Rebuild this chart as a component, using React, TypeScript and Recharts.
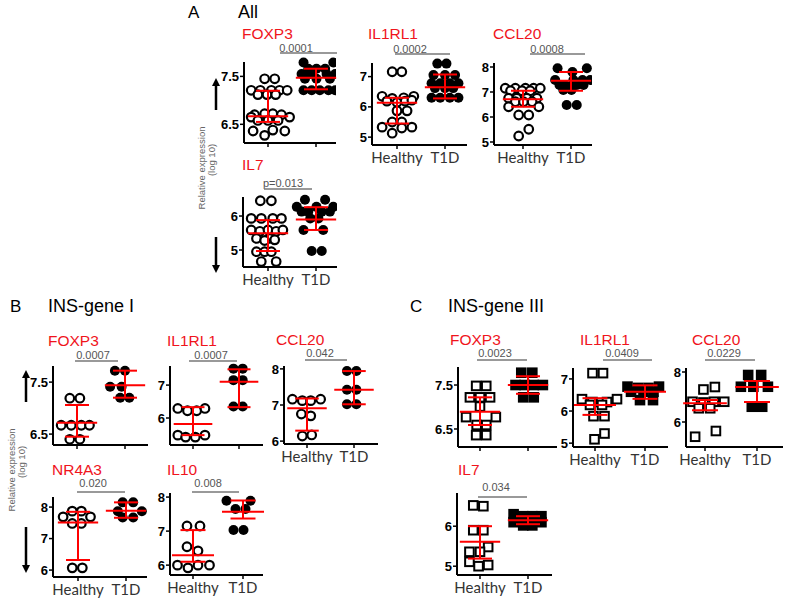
import React from 'react';
import { ScatterChart, Scatter, XAxis, YAxis, ReferenceLine } from 'recharts';

type Pt = [number, number];
type Stat = [number, number, number]; // median, q1, q3

// categories on every x axis
const groups = ['Healthy', 'T1D'];

// points: [offset from group centre (in group spacings), log10 relative expression]
// ---- A: All
const aFoxp3H: Pt[] = [[-0.07, 7.45], [0.14, 7.45], [-0.35, 7.21], [-0.16, 7.21], [0.07, 7.21], [0.24, 7.21], [0.4, 7.21], [-0.21, 7.12], [-0.02, 7.12], [0.16, 7.12], [-0.28, 6.7], [-0.07, 6.72], [0.1, 6.72], [0.28, 6.7], [-0.35, 6.65], [0.45, 6.65], [-0.21, 6.58], [0, 6.58], [0.21, 6.58], [-0.31, 6.36], [0.1, 6.38], [0.35, 6.36], [-0.07, 6.27]];
const aFoxp3T: Pt[] = [[-0.26, 7.79], [0.36, 7.79], [-0.16, 7.66], [0.01, 7.66], [0.19, 7.66], [-0.3, 7.55], [-0.12, 7.55], [0.22, 7.55], [0.4, 7.55], [-0.23, 7.45], [0.01, 7.45], [0.29, 7.45], [-0.26, 7.21], [-0.09, 7.21], [0.08, 7.21], [0.26, 7.21], [0.4, 7.21]];
const aFoxp3Stats: Stat[] = [[6.67, 6.55, 7.2], [7.47, 7.23, 7.66]];

const aIl1rl1H: Pt[] = [[-0.1, 7.16], [0.1, 7.16], [-0.31, 6.35], [-0.1, 6.28], [0.14, 6.3], [0.35, 6.35], [-0.21, 6.19], [0, 6.15], [0.17, 6.19], [0.31, 6.22], [0, 5.87], [0.21, 5.87], [-0.1, 5.5], [0.1, 5.5], [-0.31, 5.33], [0.31, 5.33], [0.1, 5.3], [-0.1, 5.13]];
const aIl1rl1T: Pt[] = [[-0.16, 7.43], [0.03, 7.43], [-0.24, 7.05], [0, 7.05], [0.21, 7.05], [-0.28, 6.78], [-0.1, 6.78], [0.1, 6.78], [0.28, 6.78], [-0.21, 6.62], [0, 6.62], [0.17, 6.62], [-0.28, 6.3], [-0.1, 6.3], [0.1, 6.3], [0.28, 6.3]];
const aIl1rl1Stats: Stat[] = [[6.14, 5.45, 6.3], [6.65, 6.28, 7.07]];

const aCcl20H: Pt[] = [[-0.37, 7.15], [-0.16, 7.15], [0.05, 7.15], [0.22, 7.15], [0.36, 7.15], [-0.26, 7.05], [-0.02, 7.05], [0.15, 7.05], [-0.3, 6.75], [-0.13, 6.75], [0.08, 6.75], [0.29, 6.75], [-0.16, 6.61], [0.01, 6.61], [0.19, 6.61], [-0.3, 6.41], [0.33, 6.41], [-0.09, 6.08], [0.12, 6.08], [0.12, 5.51], [-0.09, 5.24]];
const aCcl20T: Pt[] = [[-0.28, 7.95], [0.33, 7.95], [0.03, 7.8], [-0.33, 7.48], [0.05, 7.48], [0.24, 7.48], [0.4, 7.48], [-0.24, 7.28], [-0.13, 7.28], [-0.02, 7.22], [0.12, 7.28], [0.26, 7.28], [-0.16, 7.08], [0.01, 7.08], [-0.09, 6.48], [0.12, 6.48]];
const aCcl20Stats: Stat[] = [[6.71, 6.41, 7.05], [7.45, 7.05, 7.8]];

const aIl7H: Pt[] = [[-0.16, 6.45], [0.07, 6.45], [-0.35, 5.93], [-0.14, 5.93], [0.1, 5.93], [0.28, 5.93], [-0.35, 5.59], [-0.17, 5.55], [0, 5.59], [0.17, 5.55], [0.31, 5.59], [-0.24, 5.34], [0.03, 5.34], [-0.07, 5.28], [0.14, 5.3], [-0.24, 4.95], [-0.07, 4.95], [0.07, 4.95], [-0.14, 4.66], [0.17, 4.66]];
const aIl7T: Pt[] = [[-0.23, 6.48], [0.19, 6.48], [-0.4, 6.27], [0.01, 6.27], [0.36, 6.27], [-0.3, 6.13], [-0.16, 6.13], [0.12, 6.13], [0.29, 6.13], [-0.12, 5.93], [0.05, 5.93], [-0.26, 5.59], [0.15, 5.59], [-0.09, 4.97], [0.12, 4.97]];
const aIl7Stats: Stat[] = [[5.49, 4.97, 5.88], [5.9, 5.59, 6.26]];

// ---- B: INS-gene I
const bFoxp3H: Pt[] = [[-0.15, 7.19], [0.06, 7.19], [-0.33, 6.67], [-0.12, 6.67], [0.09, 6.67], [0.26, 6.67], [-0.15, 6.4], [0.06, 6.4]];
const bFoxp3T: Pt[] = [[-0.21, 7.72], [0, 7.72], [-0.31, 7.41], [-0.07, 7.41], [-0.1, 7.2], [0.09, 7.2]];
const bFoxp3Stats: Stat[] = [[6.72, 6.45, 7.06], [7.44, 7.2, 7.72]];

const bIl1rl1H: Pt[] = [[-0.33, 6.29], [-0.12, 6.22], [0.08, 6.22], [0.26, 6.29], [-0.33, 5.48], [-0.16, 5.42], [0.05, 5.42], [0.26, 5.48]];
const bIl1rl1T: Pt[] = [[-0.12, 7.5], [0.08, 7.5], [-0.12, 7.15], [0.08, 7.15], [-0.12, 6.35], [0.08, 6.35]];
const bIl1rl1Stats: Stat[] = [[5.82, 5.48, 6.33], [7.1, 6.33, 7.48]];

const bCcl20H: Pt[] = [[-0.31, 7.16], [-0.1, 7.12], [0.08, 7.12], [0.29, 7.16], [-0.12, 6.75], [0.08, 6.7], [-0.1, 6.14], [0.1, 6.17]];
const bCcl20T: Pt[] = [[-0.15, 7.94], [0.05, 7.94], [-0.15, 7.42], [0.05, 7.42], [-0.15, 7.02], [0.05, 7.02]];
const bCcl20Stats: Stat[] = [[6.91, 6.29, 7.18], [7.42, 7.02, 7.94]];

const bNr4a3H: Pt[] = [[-0.12, 7.87], [0.07, 7.87], [-0.31, 7.69], [0.26, 7.69], [-0.12, 7.48], [0.07, 7.48], [-0.12, 6.07], [0.09, 6.07]];
const bNr4a3T: Pt[] = [[-0.07, 8.15], [0.15, 8.15], [-0.17, 7.87], [0.33, 7.87], [-0.07, 7.67], [0.15, 7.67]];
const bNr4a3Stats: Stat[] = [[7.51, 6.32, 7.85], [7.88, 7.66, 8.15]];

const bIl10H: Pt[] = [[-0.12, 7.15], [0.14, 7.15], [-0.12, 6.54], [0.1, 6.42], [-0.31, 6.0], [-0.1, 5.92], [0.1, 6.0], [0.33, 6.0]];
const bIl10T: Pt[] = [[-0.33, 7.89], [0.15, 7.89], [-0.15, 7.65], [0.05, 7.65], [-0.19, 7.03], [0.01, 7.03]];
const bIl10Stats: Stat[] = [[6.29, 6.1, 7.03], [7.57, 7.37, 7.9]];

// ---- C: INS-gene III
const cFoxp3H: Pt[] = [[-0.08, 7.48], [0.13, 7.48], [-0.21, 7.22], [0, 7.22], [0.21, 7.22], [0, 7.01], [-0.29, 6.77], [0.33, 6.77], [-0.07, 6.59], [0.13, 6.59], [-0.08, 6.36], [0.13, 6.36]];
const cFoxp3T: Pt[] = [[-0.14, 7.78], [0.09, 7.78], [-0.26, 7.5], [-0.07, 7.5], [0.12, 7.5], [0.31, 7.5], [-0.1, 7.22], [0.12, 7.22]];
const cFoxp3Stats: Stat[] = [[6.89, 6.59, 7.22], [7.5, 7.3, 7.7]];

const cIl1rl1H: Pt[] = [[-0.05, 7.18], [0.16, 7.18], [-0.26, 6.37], [-0.05, 6.28], [0.24, 6.28], [0.44, 6.37], [-0.1, 6.19], [0.14, 6.19], [-0.03, 5.84], [0.19, 5.84], [0.19, 5.3], [-0.01, 5.12]];
const cIl1rl1T: Pt[] = [[-0.35, 6.76], [-0.14, 6.72], [0.07, 6.72], [0.28, 6.76], [-0.28, 6.6], [-0.03, 6.6], [0.17, 6.6], [-0.1, 6.34], [0.16, 6.34]];
const cIl1rl1Stats: Stat[] = [[6.19, 5.88, 6.4], [6.6, 6.38, 6.8]];

const cCcl20H: Pt[] = [[-0.03, 7.3], [0.19, 7.4], [-0.24, 6.81], [-0.03, 6.78], [0.17, 6.81], [0.37, 6.81], [-0.12, 6.55], [0.1, 6.55], [0.21, 5.64], [-0.19, 5.41]];
const cCcl20T: Pt[] = [[-0.17, 7.88], [0.08, 7.88], [-0.31, 7.41], [-0.07, 7.41], [0.21, 7.41], [-0.1, 6.61], [0.1, 6.61]];
const cCcl20Stats: Stat[] = [[6.75, 6.47, 6.88], [7.4, 6.8, 7.64]];

const cIl7H: Pt[] = [[-0.14, 6.52], [0.07, 6.5], [-0.14, 5.9], [0.07, 5.9], [0.17, 5.48], [-0.22, 5.36], [0, 5.36], [-0.22, 5.11], [-0.03, 5.0], [0.17, 5.03]];
const cIl7T: Pt[] = [[-0.3, 6.3], [-0.1, 6.25], [0.09, 6.25], [0.28, 6.25], [-0.3, 6.1], [-0.1, 6.02], [0.09, 6.02], [0.28, 6.1], [0.09, 6.15]];
const cIl7Stats: Stat[] = [[5.61, 5.19, 6.0], [6.15, 6.05, 6.25]];

const RED = '#ff0000';
const TITLE_RED = '#f0141c';
const YW = 30;
const MT = 6;
const MR = 8;
const XH = 24;

// layout: ax = y axis x, top/bottom = plot, right = end of x axis, hx/tx = group centres (px)
const panels = [
  { title: 'FOXP3', p: '0.0001', tl: [242, 33], pv: [296, 48], br: [280, 337, 53], ax: 244, top: 62, bottom: 143, right: 336, hx: 268, tx: 316, domain: [6.11, 7.8], ticks: [6.5, 7.5], showX: false, sq: false, h: aFoxp3H, t: aFoxp3T, s: aFoxp3Stats },
  { title: 'IL1RL1', p: '0.0002', tl: [368, 33], pv: [410, 49], br: [395, 450, 54], ax: 372, top: 63, bottom: 145, right: 467, hx: 397, tx: 445, domain: [4.74, 7.45], ticks: [5, 6, 7], showX: true, sq: false, h: aIl1rl1H, t: aIl1rl1T, s: aIl1rl1Stats },
  { title: 'CCL20', p: '0.0008', tl: [493, 33], pv: [547, 49], br: [530, 585, 54], ax: 494, top: 63, bottom: 145, right: 592, hx: 523, tx: 571, domain: [4.88, 8.16], ticks: [5, 6, 7, 8], showX: true, sq: false, h: aCcl20H, t: aCcl20T, s: aCcl20Stats },
  { title: 'IL7', p: 'p=0.013', tl: [242, 164], pv: [283, 183], br: [264, 312, 189], ax: 243, top: 197, bottom: 267, right: 337, hx: 268, tx: 316, domain: [4.5, 6.56], ticks: [5, 6], showX: true, sq: false, h: aIl7H, t: aIl7T, s: aIl7Stats },
  { title: 'FOXP3', p: '0.0007', tl: [48, 340], pv: [93, 355], br: [75, 118, 361], ax: 53, top: 366, bottom: 445, right: 148, hx: 77, tx: 125, domain: [6.29, 7.81], ticks: [6.5, 7.5], showX: false, sq: false, h: bFoxp3H, t: bFoxp3T, s: bFoxp3Stats },
  { title: 'IL1RL1', p: '0.0007', tl: [167, 340], pv: [211, 355], br: [189, 237, 361], ax: 170, top: 366, bottom: 445, right: 263, hx: 193, tx: 239, domain: [5.18, 7.58], ticks: [6, 7], showX: false, sq: false, h: bIl1rl1H, t: bIl1rl1T, s: bIl1rl1Stats },
  { title: 'CCL20', p: '0.042', tl: [276, 339], pv: [320, 353], br: [305, 347, 360], ax: 284, top: 366, bottom: 444, right: 378, hx: 307, tx: 354, domain: [5.92, 8.08], ticks: [6, 7, 8], showX: true, sq: false, h: bCcl20H, t: bCcl20T, s: bCcl20Stats },
  { title: 'NR4A3', p: '0.020', tl: [52, 469], pv: [93, 483], br: [77, 125, 492], ax: 53, top: 497, bottom: 577, right: 147, hx: 78, tx: 126, domain: [5.78, 8.32], ticks: [6, 7, 8], showX: true, sq: false, h: bNr4a3H, t: bNr4a3T, s: bNr4a3Stats },
  { title: 'IL10', p: '0.008', tl: [167, 469], pv: [208, 483], br: [192, 239, 492], ax: 170, top: 493, bottom: 575, right: 263, hx: 193, tx: 243, domain: [5.71, 8.12], ticks: [6, 7, 8], showX: true, sq: false, h: bIl10H, t: bIl10T, s: bIl10Stats },
  { title: 'FOXP3', p: '0.0023', tl: [450, 339], pv: [495, 353], br: [477, 527, 360], ax: 458, top: 367, bottom: 447, right: 557, hx: 480, tx: 528, domain: [6.09, 7.91], ticks: [6.5, 7.5], showX: false, sq: true, h: cFoxp3H, t: cFoxp3T, s: cFoxp3Stats },
  { title: 'IL1RL1', p: '0.0409', tl: [580, 339], pv: [622, 353], br: [603, 652, 360], ax: 573, top: 368, bottom: 447, right: 668, hx: 595, tx: 645, domain: [4.88, 7.34], ticks: [5, 6, 7], showX: true, sq: true, h: cIl1rl1H, t: cIl1rl1T, s: cIl1rl1Stats },
  { title: 'CCL20', p: '0.0229', tl: [692, 339], pv: [724, 353], br: [705, 755, 360], ax: 686, top: 368, bottom: 447, right: 783, hx: 705, tx: 757, domain: [5.0, 8.16], ticks: [6, 8], showX: true, sq: true, h: cCcl20H, t: cCcl20T, s: cCcl20Stats },
  { title: 'IL7', p: '0.034', tl: [458, 469], pv: [496, 487], br: [478, 527, 497], ax: 457, top: 493, bottom: 575, right: 552, hx: 480, tx: 528, domain: [4.78, 6.83], ticks: [5, 6], showX: true, sq: true, h: cIl7H, t: cIl7T, s: cIl7Stats },
];

const marker = (filled: boolean, square: boolean) => (props: any) => {
  const { cx, cy } = props;
  if (cx == null || cy == null) return null;
  const fill = filled ? '#000' : '#fff';
  if (square) {
    return <rect x={cx - 4.3} y={cy - 4.3} width={8.6} height={8.6} fill={fill} stroke="#000" strokeWidth={2} />;
  }
  return <circle cx={cx} cy={cy} r={filled ? 5 : 4.3} fill={fill} stroke="#000" strokeWidth={filled ? 0 : 2.2} />;
};

function XTick(props: any) {
  const { x, y, payload, show } = props;
  return (
    <g>
      <line x1={x} x2={x} y1={y} y2={y + 4} stroke="#000" strokeWidth={1.5} />
      {show && (
        <text x={x} y={y + 18} textAnchor="middle" fontFamily="Lato, sans-serif" fontSize={15} fill="#333">
          {groups[payload.value - 1]}
        </text>
      )}
    </g>
  );
}

function Panel({ cfg }: { cfg: any }) {
  const span = cfg.tx - cfg.hx;
  const xmin = 1 - (cfg.hx - cfg.ax) / span;
  const xmax = 1 + (cfg.right - cfg.hx) / span;
  const w = YW + (cfg.right - cfg.ax) + MR;
  const h = MT + (cfg.bottom - cfg.top) + XH;
  const toData = (pts: Pt[], g: number) => pts.map(([o, v]) => ({ x: g + o, y: v }));
  const red = { stroke: RED, strokeWidth: 2, ifOverflow: 'visible' as const, zIndex: 1000 };

  return (
    <div style={{ position: 'absolute', left: cfg.ax - YW, top: cfg.top - MT }}>
      <ScatterChart width={w} height={h} margin={{ top: MT, right: MR, bottom: 0, left: 0 }}>
        <XAxis
          type="number"
          dataKey="x"
          domain={[xmin, xmax]}
          ticks={[1, 2]}
          allowDataOverflow
          height={XH}
          tickSize={0}
          tickMargin={0}
          axisLine={{ stroke: '#000', strokeWidth: 2 }}
          tickLine={false}
          tick={<XTick show={cfg.showX} />}
          interval={0}
        />
        <YAxis
          type="number"
          dataKey="y"
          domain={cfg.domain}
          ticks={cfg.ticks}
          width={YW}
          interval={0}
          tickSize={4}
          tickMargin={1}
          axisLine={{ stroke: '#000', strokeWidth: 2 }}
          tickLine={{ stroke: '#000', strokeWidth: 1.5 }}
          tick={{ fill: '#000', fontSize: 13, fontWeight: 'bold', fontFamily: 'Liberation Sans, Arial, sans-serif' }}
        />
        <Scatter data={toData(cfg.h, 1)} shape={marker(false, cfg.sq)} isAnimationActive={false} />
        <Scatter data={toData(cfg.t, 2)} shape={marker(true, cfg.sq)} isAnimationActive={false} />
        {cfg.s.map(([med, q1, q3]: Stat, i: number) => {
          const g = i + 1;
          return (
            <React.Fragment key={g}>
              <ReferenceLine {...red} segment={[{ x: g - 0.42, y: med }, { x: g + 0.42, y: med }]} />
              <ReferenceLine {...red} segment={[{ x: g, y: q1 }, { x: g, y: q3 }]} />
              <ReferenceLine {...red} segment={[{ x: g - 0.25, y: q1 }, { x: g + 0.25, y: q1 }]} />
              <ReferenceLine {...red} segment={[{ x: g - 0.25, y: q3 }, { x: g + 0.25, y: q3 }]} />
            </React.Fragment>
          );
        })}
      </ScatterChart>
    </div>
  );
}

const Arrow = ({ x, y1, y2 }: { x: number; y1: number; y2: number }) => {
  const dir = y2 < y1 ? -1 : 1;
  return (
    <g>
      <line x1={x} x2={x} y1={y1} y2={y2 - dir * 7} stroke="#000" strokeWidth={2.5} />
      <polygon points={`${x - 4},${y2 - dir * 8} ${x + 4},${y2 - dir * 8} ${x},${y2}`} fill="#000" />
    </g>
  );
};

const YLabel = ({ x, y }: { x: number; y: number }) => (
  <g fill="#666" fontSize={9.5} fontFamily="Liberation Sans, Arial, sans-serif" textAnchor="middle">
    <text transform={`translate(${x},${y}) rotate(-90)`} dominantBaseline="central">Relative expression</text>
    <text transform={`translate(${x + 10},${y - 8}) rotate(-90)`} dominantBaseline="central">(log 10)</text>
  </g>
);

export default function App() {
  const font = 'Liberation Sans, Arial, sans-serif';
  return (
    <div style={{ position: 'absolute', left: 0, top: 0, width: 787, height: 602, background: '#fff' }}>
      <style>{'.recharts-surface{overflow:visible}'}</style>
      {panels.map((cfg, i) => (
        <Panel key={i} cfg={cfg} />
      ))}
      <svg width={787} height={602} style={{ position: 'absolute', left: 0, top: 0, pointerEvents: 'none', overflow: 'visible' }}>
        <g fontFamily={font}>
          <text x={188} y={12} fontSize={17} dominantBaseline="central">A</text>
          <text x={238} y={12} fontSize={18} dominantBaseline="central">All</text>
          <text x={10} y={306} fontSize={17} dominantBaseline="central">B</text>
          <text x={48} y={306} fontSize={18} dominantBaseline="central">INS-gene I</text>
          <text x={410} y={306} fontSize={17} dominantBaseline="central">C</text>
          <text x={448} y={306} fontSize={18} dominantBaseline="central">INS-gene III</text>
          {panels.map((cfg, i) => (
            <g key={i}>
              <text x={cfg.tl[0]} y={cfg.tl[1]} fontSize={15.5} fill={TITLE_RED} dominantBaseline="central">{cfg.title}</text>
              <text x={cfg.pv[0]} y={cfg.pv[1]} fontSize={11} fill="#555" textAnchor="middle" dominantBaseline="central">{cfg.p}</text>
              <line x1={cfg.br[0]} x2={cfg.br[1]} y1={cfg.br[2]} y2={cfg.br[2]} stroke="#777" strokeWidth={1.5} />
            </g>
          ))}
        </g>
        <Arrow x={216} y1={110} y2={78} />
        <Arrow x={216} y1={237} y2={273} />
        <Arrow x={26} y1={402} y2={370} />
        <Arrow x={26} y1={527} y2={573} />
        <YLabel x={201} y={168} />
        <YLabel x={11} y={470} />
      </svg>
    </div>
  );
}
